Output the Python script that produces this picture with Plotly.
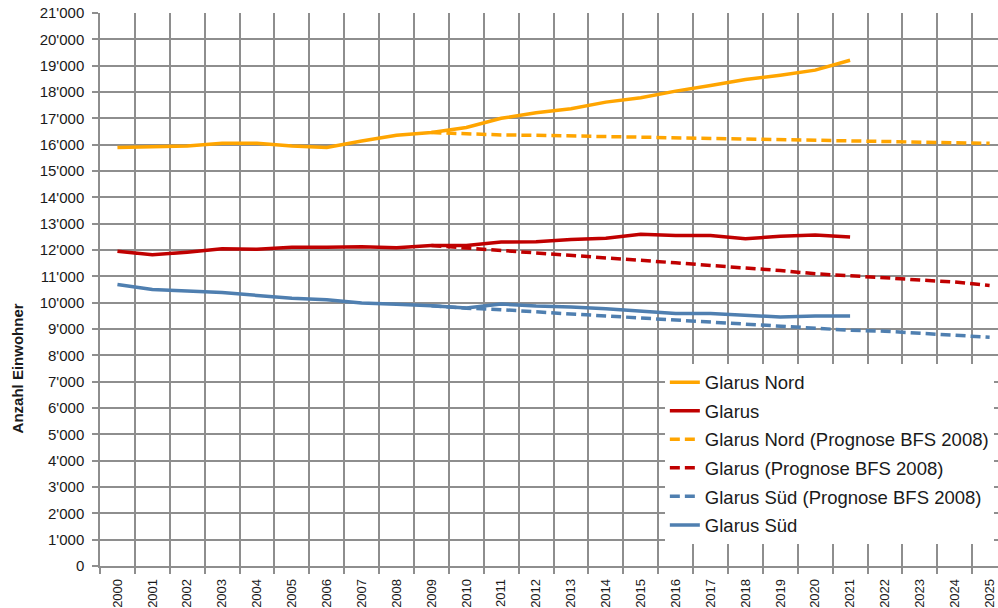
import plotly.graph_objects as go

# Jahre der Kategorieachse
years = list(range(2000, 2026))
years_actual = list(range(2000, 2022))
years_prognose = list(range(2009, 2026))

# Bestand (Einwohner)
glarus_nord = [15890, 15915, 15950, 16050, 16050, 15950, 15890, 16140, 16360, 16460, 16650,
               17000, 17215, 17365, 17616, 17780, 18033, 18250, 18475, 18640, 18830, 19205]
glarus = [11956, 11816, 11918, 12043, 12030, 12107, 12100, 12120, 12085, 12170, 12170,
          12300, 12310, 12400, 12450, 12600, 12547, 12547, 12430, 12522, 12573, 12490]
glarus_sued = [10693, 10504, 10443, 10390, 10276, 10170, 10113, 9988, 9936, 9886, 9800,
               9950, 9870, 9840, 9773, 9670, 9584, 9584, 9520, 9459, 9496, 9496]

# Prognose BFS 2008
glarus_nord_p = [16460, 16400, 16370, 16355, 16330, 16320, 16306, 16280, 16255, 16230,
                 16205, 16180, 16150, 16130, 16090, 16065, 16050]
glarus_p = [12170, 12080, 11980, 11900, 11800, 11700, 11627, 11513, 11412, 11325,
            11222, 11097, 11033, 10946, 10860, 10783, 10655]
glarus_sued_p = [9886, 9790, 9735, 9640, 9570, 9496, 9420, 9330, 9270, 9180,
                 9118, 9054, 8952, 8915, 8827, 8763, 8687]

ORANGE = "#FFA500"
RED = "#C00000"
BLUE = "#4F7FB0"
GRID = "#8E8E8E"
FONT = "Liberation Sans, Arial, sans-serif"

series = [
    ("Glarus Nord", years_actual, glarus_nord, ORANGE, "solid"),
    ("Glarus", years_actual, glarus, RED, "solid"),
    ("Glarus Nord (Prognose BFS 2008)", years_prognose, glarus_nord_p, ORANGE, "10px,5px"),
    ("Glarus (Prognose BFS 2008)", years_prognose, glarus_p, RED, "10px,5px"),
    ("Glarus Süd (Prognose BFS 2008)", years_prognose, glarus_sued_p, BLUE, "10px,5px"),
    ("Glarus Süd", years_actual, glarus_sued, BLUE, "solid"),
]

fig = go.Figure()
for i, (name, xs, ys, color, dash) in enumerate(series):
    fig.add_trace(go.Scatter(
        x=xs, y=ys, name=name, mode="lines",
        line=dict(color=color, width=3.5, dash=dash),
        legendgroup=f"g{i}",
    ))

# Achsentitel links, als gedrehte Beschriftung
fig.add_annotation(
    text="<b>Anzahl Einwohner</b>", textangle=-90,
    xref="paper", yref="paper", x=-0.092, y=0.358,
    xanchor="center", yanchor="middle", showarrow=False,
    font=dict(size=15, family=FONT, color="#1a1a1a"),
)

fig.update_layout(
    width=998, height=608,
    margin=dict(l=99.5, r=0, t=13.3, b=39.7),
    paper_bgcolor="white", plot_bgcolor="white",
    separators=".'",
    font=dict(family=FONT, color="#1a1a1a"),
    showlegend=True,
    legend=dict(
        x=0.629, y=0.366, xanchor="left", yanchor="top",
        bgcolor="white", borderwidth=0,
        font=dict(size=18.5, family=FONT, color="#1a1a1a"),
        tracegroupgap=1.5, traceorder="grouped",
    ),
    xaxis=dict(
        range=[1999.5, 2025.24],
        tickmode="array", tickvals=years, ticktext=[str(y) for y in years],
        tickangle=-90, tickfont=dict(size=13, family=FONT, color="#1a1a1a"),
        ticks="", showgrid=False, zeroline=False,
        showline=True, linecolor=GRID, linewidth=1.5,
        ticklabelstandoff=6,
        minor=dict(
            tickmode="array", tickvals=[1999.5 + k for k in range(27)],
            ticks="outside", ticklen=6, tickcolor=GRID, tickwidth=1.5,
            showgrid=True, gridcolor=GRID, gridwidth=1.5,
        ),
    ),
    yaxis=dict(
        range=[0, 21000], tickmode="linear", tick0=0, dtick=1000,
        tickformat=",d", tickfont=dict(size=15, family=FONT, color="#1a1a1a"),
        ticks="outside", ticklen=6, tickcolor=GRID, tickwidth=1.5,
        showgrid=True, gridcolor=GRID, gridwidth=1.5, zeroline=False,
        showline=True, linecolor=GRID, linewidth=1.5,
        ticklabelstandoff=5,
    ),
)

fig.write_html("out.html")
